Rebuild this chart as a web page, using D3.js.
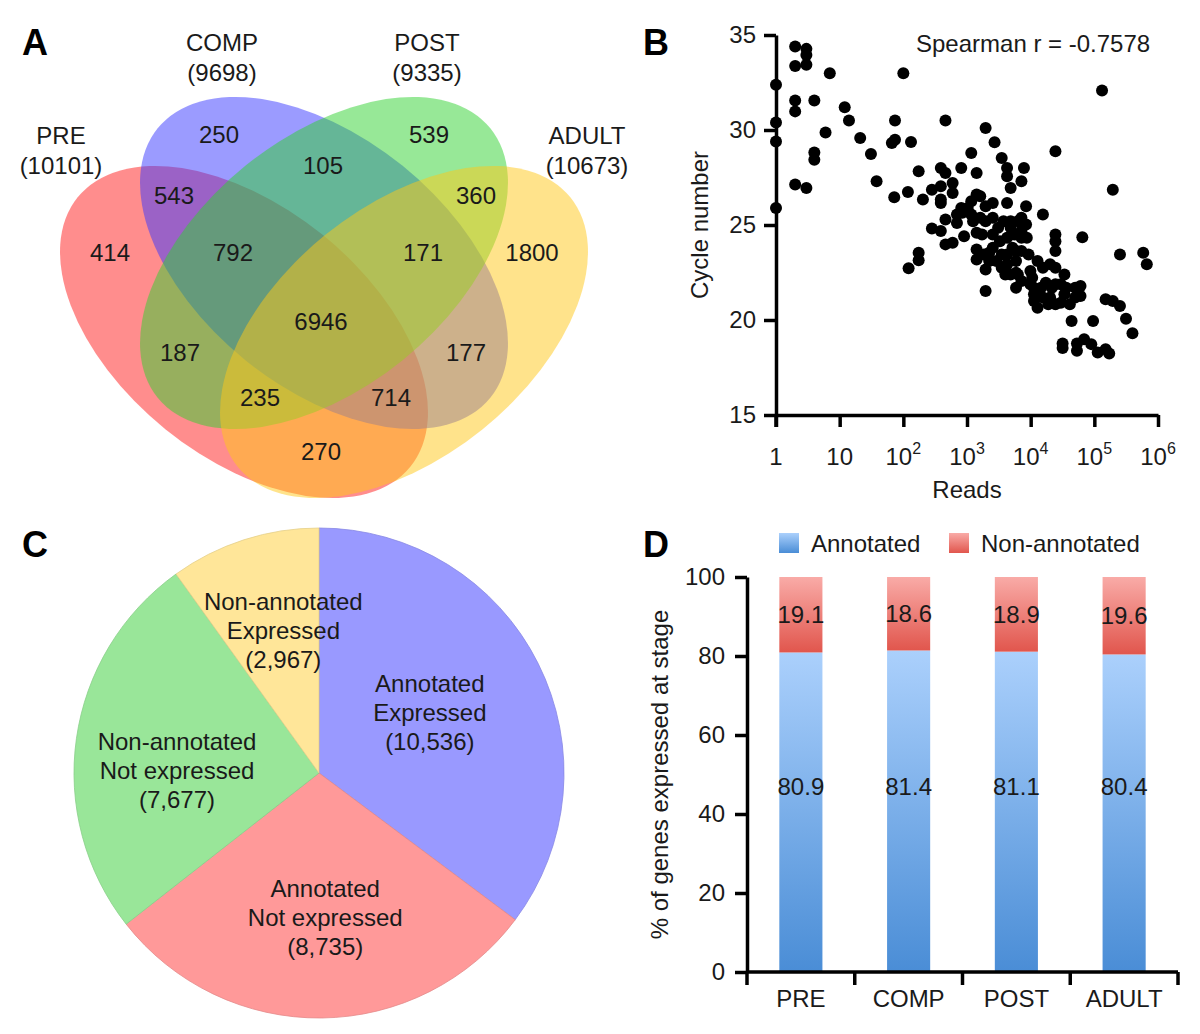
<!DOCTYPE html>
<html><head><meta charset="utf-8">
<script src="https://cdn.jsdelivr.net/npm/d3@7"></script>
<style>
body{margin:0;background:#fff}
text{font-family:"Liberation Sans",Arial,Helvetica,sans-serif;fill:#1a1a1a}
</style>
</head><body>
<svg id="fig" width="1200" height="1034"></svg>
<script>
// ---------------- DATA ----------------
// Panel A: Venn
const vennSets = ["PRE", "COMP", "POST", "ADULT"];
const vennTotals = [10101, 9698, 9335, 10673];
const vennRegions = ["PRE", "COMP", "POST", "ADULT", "PRE&COMP", "COMP&POST", "POST&ADULT",
  "PRE&COMP&POST", "COMP&POST&ADULT", "ALL", "PRE&POST", "COMP&ADULT", "PRE&POST&ADULT", "PRE&COMP&ADULT", "PRE&ADULT"];
const vennCounts = [414, 250, 539, 1800, 543, 105, 360, 792, 171, 6946, 187, 177, 235, 714, 270];

// Panel B: scatter
const readsValues = [
  1,1,1,1, 2,2,2,2,2, 3,3,3,3, 4,4,4, 6, 7, 12, 14, 21, 31, 38, 66, 74,74, 72, 100, 118, 132, 121,
  174,174,174, 203, 281,281, 388,388,388,388,388, 459,459,459,459, 595,595,595, 812,812, 900, 695,695,
  1167,1167,1167, 1416,1416,1416,1416,1416, 1614,1614, 1960,1960,1960,1960,1960, 2230,2230,
  2540,2540,2540,2540, 2710, 3510,3510,3510, 4260,4260,4260,4260,4260,4260, 4850,4850,4850,4850,
  5890,5890,5890,5890, 7160,7160,7160,7160,7160,7160, 7840, 8470,8470, 9900,9900, 11270,11270,11270,
  12820,12820, 15570,15570, 17270, 20180,20180, 24500,24500,24500,24500,24500,24500, 29770,29770,
  33880,33880, 31750,31750, 43950, 50000,50000, 60700,60700, 64800, 53330,53330, 69150, 95500, 89540,
  113000, 132100, 150400,150400, 171300, 195000,195000, 252600,252600, 314500, 397000, 586000, 667000,
  844, 1025, 1245, 1722, 1836, 3083, 3289, 5523, 6291, 3743, 5176, 8695, 9271, 10570, 14590, 18920,
  21530, 36140, 41210, 15570, 24500, 2890, 3998, 6291
];
const cycleValues = [
  32.38,30.40,29.40,25.90, 34.39,33.37,31.55,30.98,27.13, 34.27,33.95,33.43,26.95, 31.55,28.82,28.44,
  29.87, 32.99, 31.20, 30.50, 29.58, 28.74, 27.30, 29.31, 30.50,29.49, 26.46, 32.99, 26.74, 29.37, 22.72,
  27.83,23.54,23.14, 26.34, 26.86,24.82, 28.00,27.04,26.34,26.16,24.68, 30.50,27.74,25.29,23.98,
  27.21,26.69,24.06, 28.00,25.90, 24.41, 25.55,25.11,
  28.79,26.25,25.55, 27.74,26.60,24.59,23.71,23.19, 26.51,25.38, 30.10,25.99,25.20,22.66,21.53, 23.54,23.10,
  26.16,25.38,24.50,23.80, 29.35, 28.53,23.45,22.75, 28.00,27.56,26.16,24.33,23.45,22.93, 26.95,25.20,24.85,22.40,
  23.63,23.10,22.49,21.70, 27.30,25.38,24.68,24.33,23.63,22.05, 28.00, 25.99,25.03, 22.58,21.88, 21.70,21.35,21.00,
  23.10,20.65, 25.55,22.75, 21.96, 22.93,21.18, 28.88,24.50,24.15,23.63,22.75,20.83, 21.88,20.91,
  22.40,21.35, 18.76,18.52, 19.95, 21.70,21.18, 21.79,21.26, 24.36, 18.76,18.38, 18.99, 19.95, 18.73,
  18.29, 32.08, 21.09,18.46, 18.24, 26.86,21.00, 23.45,20.74, 20.07, 19.30, 23.54, 22.93,
  25.64, 25.90, 25.20, 24.50, 23.45, 24.85, 24.15, 24.50, 25.20, 25.20, 23.80, 24.33, 23.45, 22.23, 21.70, 20.83,
  21.70, 21.70, 20.83, 21.18, 21.88, 23.10, 22.40, 22.40
];
const spearmanR = -0.7578;
const yTicksB = [15, 20, 25, 30, 35];
const xTicksB = [1, 10, 100, 1000, 10000, 100000, 1000000];

// Panel C: pie
const pieCategories = [["Annotated", "Expressed"], ["Annotated", "Not expressed"],
  ["Non-annotated", "Not expressed"], ["Non-annotated", "Expressed"]];
const pieValues = [10536, 8735, 7677, 2967];

// Panel D: stacked bars
const stages = ["PRE", "COMP", "POST", "ADULT"];
const annotatedPct = [80.9, 81.4, 81.1, 80.4];
const nonAnnotatedPct = [19.1, 18.6, 18.9, 19.6];
const seriesNames = ["Annotated", "Non-annotated"];
const yTicksD = [0, 20, 40, 60, 80, 100];

// ---------------- DRAW ----------------
const svg = d3.select("#fig");
const FS = 24;
const fmt = d3.format(",");

// panel letters
[["A",22,55],["B",643,55],["C",22,557],["D",643,557]].forEach(([t,x,y]) =>
  svg.append("text").attr("x",x).attr("y",y).attr("font-size",36).attr("font-weight","bold").style("fill","#000").text(t));

// ===== Panel A: Venn =====
const V = {cx: 324, cy: 263, dx: 80, dy: 69, a: 214, b: 125, rot: 39};
const vennGeom = [
  {cx: V.cx - V.dx, cy: V.cy + V.dy, rot: V.rot},
  {cx: V.cx, cy: V.cy, rot: V.rot},
  {cx: V.cx, cy: V.cy, rot: -V.rot},
  {cx: V.cx + V.dx, cy: V.cy + V.dy, rot: -V.rot}
];
const vennColors = ["#ff1c1c", "#3838ff", "#2fd22f", "#ffc818"];
const gA = svg.append("g");
gA.selectAll("ellipse").data(vennSets).join("ellipse")
  .attr("cx", 0).attr("cy", 0).attr("rx", V.a).attr("ry", V.b)
  .attr("transform", (d,i) => `translate(${vennGeom[i].cx},${vennGeom[i].cy}) rotate(${vennGeom[i].rot})`)
  .attr("fill", (d,i) => vennColors[i]).attr("fill-opacity", 0.5).attr("stroke", "none");

// set labels (layout positions)
const setLabelPos = [[61,136],[222,43],[427,43],[587,136]];
vennSets.forEach((s,i) => {
  const t = gA.append("text").attr("text-anchor","middle").attr("font-size",FS)
    .attr("x", setLabelPos[i][0]).attr("y", setLabelPos[i][1]).attr("dy","0.35em");
  t.append("tspan").attr("x", setLabelPos[i][0]).text(s);
  t.append("tspan").attr("x", setLabelPos[i][0]).attr("dy", 30).text(`(${vennTotals[i]})`);
});
// region count positions (layout)
const regionPos = {
  "PRE":[110,253], "COMP":[219,135], "POST":[429,135], "ADULT":[532,253],
  "PRE&COMP":[174,196], "COMP&POST":[323,166], "POST&ADULT":[476,196],
  "PRE&COMP&POST":[233,253], "COMP&POST&ADULT":[423,253], "ALL":[321,322],
  "PRE&POST":[180,353], "COMP&ADULT":[466,353], "PRE&POST&ADULT":[260,398],
  "PRE&COMP&ADULT":[391,398], "PRE&ADULT":[321,452]
};
vennRegions.forEach((r,i) => {
  gA.append("text").attr("text-anchor","middle").attr("font-size",FS)
    .attr("x", regionPos[r][0]).attr("y", regionPos[r][1]).attr("dy","0.35em")
    .text(vennCounts[i]);
});

// ===== Panel B: scatter =====
const xB = d3.scaleLog().domain([1, 1e6]).range([776, 1158]);
const yB = d3.scaleLinear().domain([15, 35]).range([415, 35]);
const gB = svg.append("g");
gB.selectAll("circle").data(readsValues).join("circle")
  .attr("cx", d => xB(d)).attr("cy", (d,i) => yB(cycleValues[i])).attr("r", 6).attr("fill", "#000");

const axY = gB.append("g").attr("transform", `translate(${xB(1)},0)`)
  .call(d3.axisLeft(yB).tickValues(yTicksB).tickSize(12).tickSizeOuter(0).tickPadding(8));
const axX = gB.append("g").attr("transform", `translate(0,${yB(15)})`)
  .call(d3.axisBottom(xB).tickValues(xTicksB).tickSize(12).tickSizeOuter(0).tickFormat(""));
[axY, axX].forEach(a => {
  a.select(".domain").attr("stroke","#000").attr("stroke-width",3.5);
  a.selectAll(".tick line").attr("stroke","#000").attr("stroke-width",3.5);
  a.selectAll("text").attr("font-size",FS).attr("font-family","Liberation Sans, Arial, sans-serif").style("fill","#1a1a1a");
});
gB.append("line").attr("x1", xB(1)).attr("x2", xB(1)).attr("y1", yB(15)).attr("y2", yB(15)+12)
  .attr("stroke","#000").attr("stroke-width",3.5);
xTicksB.forEach(v => {
  const e = Math.round(Math.log10(v));
  const t = gB.append("text").attr("x", xB(v)).attr("y", yB(15) + 50).attr("text-anchor","middle").attr("font-size",FS);
  if (e === 0) t.text("1");
  else if (e === 1) t.text("10");
  else { t.append("tspan").text("10"); t.append("tspan").attr("dy", -11).attr("font-size", 16).text(e); }
});
gB.append("text").attr("x", (xB(1)+xB(1e6))/2).attr("y", 498).attr("text-anchor","middle").attr("font-size",FS).text("Reads");
gB.append("text").attr("transform", `translate(708,${(yB(15)+yB(35))/2}) rotate(-90)`)
  .attr("text-anchor","middle").attr("font-size",FS).text("Cycle number");
gB.append("text").attr("x", 916).attr("y", 52).attr("font-size",FS).text(`Spearman r = ${spearmanR}`);

// ===== Panel C: pie =====
const pieColors = ["#9999ff", "#ff9999", "#99e699", "#ffe699"];
const pc = {x: 319, y: 773, r: 245};
const arcs = d3.pie().sort(null).value(d => d)(pieValues);
const arcGen = d3.arc().innerRadius(0).outerRadius(pc.r);
const gC = svg.append("g").attr("transform", `translate(${pc.x},${pc.y})`);
gC.selectAll("path").data(arcs).join("path").attr("d", arcGen)
  .attr("fill", (d,i) => pieColors[i]).attr("stroke", (d,i) => d3.color(pieColors[i]).darker(0.3)).attr("stroke-width", 0.8);
const labelR = [126, 145, 142, 147];
const labelTweak = [-1.8, -1.8, -7.3, 3.8].map(d => d * Math.PI / 180);
arcs.forEach((d,i) => {
  const ang = (d.startAngle + d.endAngle) / 2 + labelTweak[i];
  const lx = labelR[i] * Math.sin(ang), ly = -labelR[i] * Math.cos(ang);
  const lines = [...pieCategories[i], `(${fmt(pieValues[i])})`];
  const t = gC.append("text").attr("text-anchor","middle").attr("font-size",FS);
  lines.forEach((ln,j) => t.append("tspan").attr("x", lx).attr("y", ly + (j-1)*29).attr("dy","0.35em").text(ln));
});

// ===== Panel D: stacked bars =====
const defs = svg.append("defs");
const gradStops = [["gradBlue", "#abd0fc", "#4a8dd6"], ["gradRed", "#f9aba7", "#e1564d"]];
gradStops.forEach(([id, top, bot]) => {
  const g = defs.append("linearGradient").attr("id", id).attr("x1",0).attr("y1",0).attr("x2",0).attr("y2",1);
  g.append("stop").attr("offset","0%").attr("stop-color", top);
  g.append("stop").attr("offset","100%").attr("stop-color", bot);
});
const xD = d3.scaleBand().domain(stages).range([747, 1178]).padding(0);
const yD = d3.scaleLinear().domain([0, 100]).range([972, 577]);
const barW = xD.bandwidth() * 0.4;
const gD = svg.append("g");
const stackData = stages.map((s,i) => ({stage: s, Annotated: annotatedPct[i], "Non-annotated": nonAnnotatedPct[i]}));
const stacked = d3.stack().keys(seriesNames)(stackData);
const fills = ["url(#gradBlue)", "url(#gradRed)"];
stacked.forEach((ser, si) => {
  gD.selectAll(null).data(ser).join("rect")
    .attr("x", d => xD(d.data.stage) + (xD.bandwidth() - barW)/2).attr("width", barW)
    .attr("y", d => yD(d[1])).attr("height", d => yD(d[0]) - yD(d[1]))
    .attr("fill", fills[si]);
});
stages.forEach((s,i) => {
  const cx = xD(s) + xD.bandwidth()/2;
  gD.append("text").attr("x", cx).attr("y", yD(47)).attr("dy","0.35em").attr("text-anchor","middle").attr("font-size",FS).text(annotatedPct[i]);
  gD.append("text").attr("x", cx).attr("y", yD(annotatedPct[i] + nonAnnotatedPct[i]/2)).attr("dy","0.35em").attr("text-anchor","middle").attr("font-size",FS).text(nonAnnotatedPct[i]);
});
const axYD = gD.append("g").attr("transform", `translate(747,0)`)
  .call(d3.axisLeft(yD).tickValues(yTicksD).tickSize(12).tickSizeOuter(0).tickPadding(10));
axYD.select(".domain").attr("stroke","#000").attr("stroke-width",3.5);
axYD.selectAll(".tick line").attr("stroke","#000").attr("stroke-width",3.5);
axYD.selectAll("text").attr("font-size",FS).attr("font-family","Liberation Sans, Arial, sans-serif").style("fill","#1a1a1a");
gD.append("line").attr("x1",747).attr("x2",1178).attr("y1",yD(0)).attr("y2",yD(0)).attr("stroke","#000").attr("stroke-width",3.5);
const bounds = stages.map(s => xD(s)).concat([xD.range()[1]]);
gD.selectAll(null).data(bounds).join("line")
  .attr("x1", d => d).attr("x2", d => d).attr("y1", yD(0)).attr("y2", yD(0) + 13)
  .attr("stroke","#000").attr("stroke-width",3.5);
stages.forEach(s => gD.append("text").attr("x", xD(s) + xD.bandwidth()/2).attr("y", 1007)
  .attr("text-anchor","middle").attr("font-size",FS).text(s));
gD.append("text").attr("transform", `translate(668,${(yD(0)+yD(100))/2}) rotate(-90)`)
  .attr("text-anchor","middle").attr("font-size",FS).text("% of genes expressed at stage");
const legX = [779, 949];
seriesNames.forEach((n,i) => {
  gD.append("rect").attr("x", legX[i]).attr("y", 533).attr("width", 20).attr("height", 20).attr("fill", fills[i]);
  gD.append("text").attr("x", legX[i] + 32).attr("y", 552).attr("font-size",FS).text(n);
});
</script>
</body></html>
